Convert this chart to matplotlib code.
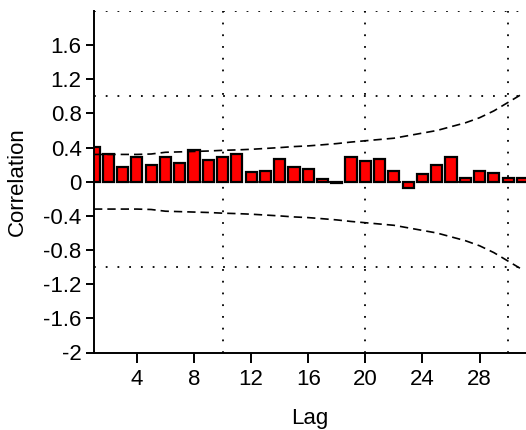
import numpy as np
import matplotlib
matplotlib.use("Agg")
import matplotlib.pyplot as plt

plt.rcParams['font.family'] = ['Liberation Sans', 'DejaVu Sans']

# autocorrelation per lag
lags = np.arange(1, 32)
acf = [0.41, 0.33, 0.175, 0.29, 0.20, 0.29, 0.22, 0.37, 0.25, 0.29,
       0.32, 0.11, 0.13, 0.27, 0.175, 0.15, 0.03, -0.02, 0.29, 0.24,
       0.27, 0.13, -0.07, 0.085, 0.20, 0.29, 0.04, 0.13, 0.105, 0.04,
       0.04]
# confidence band half width
band = [0.32, 0.32, 0.32, 0.32, 0.325, 0.345, 0.35, 0.355, 0.36, 0.368,
        0.373, 0.38, 0.39, 0.40, 0.412, 0.42, 0.433, 0.447, 0.465, 0.48,
        0.495, 0.51, 0.54, 0.57, 0.60, 0.645, 0.69, 0.75, 0.83, 0.93,
        1.03]

xticks = [4, 8, 12, 16, 20, 24, 28]
yticks = [1.6, 1.2, 0.8, 0.4, 0, -0.4, -0.8, -1.2, -1.6, -2]
ytick_labels = ["1.6", "1.2", "0.8", "0.4", "0", "-0.4", "-0.8", "-1.2", "-1.6", "-2"]
xgrid = [10, 20, 30]
ygrid = [-1, 0, 1, 2]

fig = plt.figure(figsize=(5.26, 4.30), dpi=100)
ax = fig.add_axes([94 / 526, (430 - 352.5) / 430, 1 - 94 / 526, (352.5 - 11) / 430])

band = np.array(band)

for g in xgrid:
    ax.axvline(g, color='black', lw=1.3, ls=(0, (1, 5.5)), zorder=1)
for g in ygrid:
    ax.axhline(g, color='black', lw=1.3, ls=(0, (1, 5.5)), zorder=1)

ax.bar(lags, acf, width=0.78, color='#ff0000', edgecolor='black', linewidth=1.6, zorder=2)

ax.plot(lags, band, color='black', lw=1.2, ls=(0, (5, 3)), zorder=3)
ax.plot(lags, -band, color='black', lw=1.2, ls=(0, (5, 3)), zorder=3)

ax.set_xlim(1, 31.25)
ax.set_ylim(-2, 2)
ax.set_xticks(xticks)
ax.set_yticks(yticks)
ax.set_yticklabels(ytick_labels)

for s in ['top', 'right']:
    ax.spines[s].set_visible(False)
for s in ['left', 'bottom']:
    ax.spines[s].set_linewidth(1.4)

ax.tick_params(axis='x', length=7, width=1.4, pad=5, labelsize=16)
ax.tick_params(axis='y', length=6, width=1.4, pad=3, labelsize=16)

ax.set_xlabel("Lag", fontsize=16, labelpad=13)
ax.set_ylabel("Correlation", fontsize=16, labelpad=11)

fig.savefig("out.png", dpi=100)
